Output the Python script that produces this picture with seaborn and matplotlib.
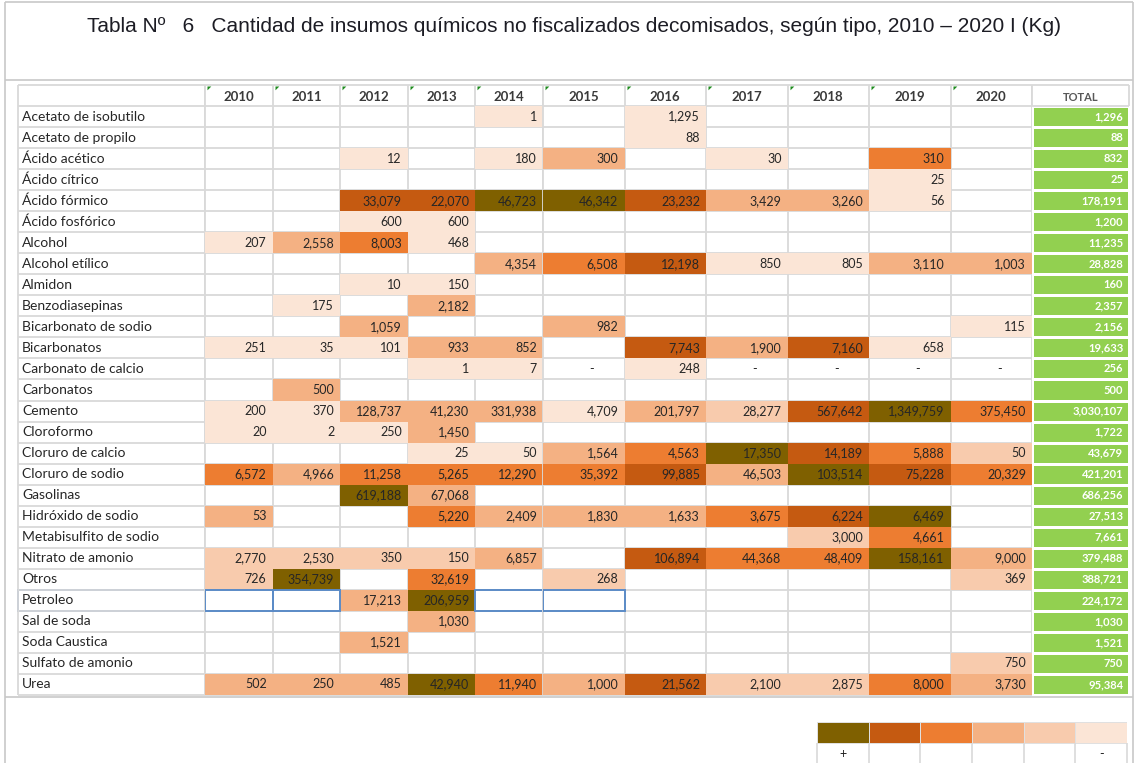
import matplotlib
matplotlib.use('Agg')
import matplotlib.pyplot as plt
import numpy as np
import pandas as pd
import seaborn as sns
from matplotlib.colors import ListedColormap
from matplotlib.patches import Rectangle

anios = ['2010', '2011', '2012', '2013', '2014', '2015', '2016', '2017', '2018', '2019', '2020']

insumos = ['Acetato de isobutilo', 'Acetato de propilo', 'Ácido acético', 'Ácido cítrico',
           'Ácido fórmico', 'Ácido fosfórico', 'Alcohol', 'Alcohol etílico', 'Almidon',
           'Benzodiasepinas', 'Bicarbonato de sodio', 'Bicarbonatos', 'Carbonato de calcio',
           'Carbonatos', 'Cemento', 'Cloroformo', 'Cloruro de calcio', 'Cloruro de sodio',
           'Gasolinas', 'Hidróxido de sodio', 'Metabisulfito de sodio', 'Nitrato de amonio',
           'Otros', 'Petroleo', 'Sal de soda', 'Soda Caustica', 'Sulfato de amonio', 'Urea']

_ = None
# kg decomisados por año (None = celda vacía, '-' = guion)
valores = [
    [_, _, _, _, 1, _, 1295, _, _, _, _],
    [_, _, _, _, _, _, 88, _, _, _, _],
    [_, _, 12, _, 180, 300, _, 30, _, 310, _],
    [_, _, _, _, _, _, _, _, _, 25, _],
    [_, _, 33079, 22070, 46723, 46342, 23232, 3429, 3260, 56, _],
    [_, _, 600, 600, _, _, _, _, _, _, _],
    [207, 2558, 8003, 468, _, _, _, _, _, _, _],
    [_, _, _, _, 4354, 6508, 12198, 850, 805, 3110, 1003],
    [_, _, 10, 150, _, _, _, _, _, _, _],
    [_, 175, _, 2182, _, _, _, _, _, _, _],
    [_, _, 1059, _, _, 982, _, _, _, _, 115],
    [251, 35, 101, 933, 852, _, 7743, 1900, 7160, 658, _],
    [_, _, _, 1, 7, '-', 248, '-', '-', '-', '-'],
    [_, 500, _, _, _, _, _, _, _, _, _],
    [200, 370, 128737, 41230, 331938, 4709, 201797, 28277, 567642, 1349759, 375450],
    [20, 2, 250, 1450, _, _, _, _, _, _, _],
    [_, _, _, 25, 50, 1564, 4563, 17350, 14189, 5888, 50],
    [6572, 4966, 11258, 5265, 12290, 35392, 99885, 46503, 103514, 75228, 20329],
    [_, _, 619188, 67068, _, _, _, _, _, _, _],
    [53, _, _, 5220, 2409, 1830, 1633, 3675, 6224, 6469, _],
    [_, _, _, _, _, _, _, _, 3000, 4661, _],
    [2770, 2530, 350, 150, 6857, _, 106894, 44368, 48409, 158161, 9000],
    [726, 354739, _, 32619, _, 268, _, _, _, _, 369],
    [_, _, 17213, 206959, _, _, _, _, _, _, _],
    [_, _, _, 1030, _, _, _, _, _, _, _],
    [_, _, 1521, _, _, _, _, _, _, _, _],
    [_, _, _, _, _, _, _, _, _, _, 750],
    [502, 250, 485, 42940, 11940, 1000, 21562, 2100, 2875, 8000, 3730],
]

# nivel del formato condicional (0 = sin color, 1 = más claro ... 6 = más alto)
niveles = [
    [0, 0, 0, 0, 1, 0, 1, 0, 0, 0, 0],
    [0, 0, 0, 0, 0, 0, 1, 0, 0, 0, 0],
    [0, 0, 1, 0, 1, 3, 0, 1, 0, 4, 0],
    [0, 0, 0, 0, 0, 0, 0, 0, 0, 1, 0],
    [0, 0, 5, 5, 6, 6, 5, 3, 3, 1, 0],
    [0, 0, 1, 1, 0, 0, 0, 0, 0, 0, 0],
    [1, 3, 4, 1, 0, 0, 0, 0, 0, 0, 0],
    [0, 0, 0, 0, 3, 4, 5, 1, 1, 3, 3],
    [0, 0, 1, 1, 0, 0, 0, 0, 0, 0, 0],
    [0, 1, 0, 3, 0, 0, 0, 0, 0, 0, 0],
    [0, 0, 3, 0, 0, 3, 0, 0, 0, 0, 1],
    [1, 1, 1, 3, 3, 0, 5, 3, 5, 1, 0],
    [0, 0, 0, 1, 1, 0, 1, 0, 0, 0, 0],
    [0, 3, 0, 0, 0, 0, 0, 0, 0, 0, 0],
    [1, 1, 3, 3, 3, 1, 3, 2, 5, 6, 4],
    [1, 1, 1, 3, 0, 0, 0, 0, 0, 0, 0],
    [0, 0, 0, 1, 1, 3, 4, 6, 5, 4, 2],
    [4, 3, 4, 4, 4, 4, 5, 3, 6, 5, 4],
    [0, 0, 6, 3, 0, 0, 0, 0, 0, 0, 0],
    [3, 0, 0, 4, 3, 3, 3, 4, 5, 6, 0],
    [0, 0, 0, 0, 0, 0, 0, 0, 2, 4, 0],
    [2, 2, 2, 2, 3, 0, 5, 4, 4, 6, 3],
    [2, 6, 0, 4, 0, 2, 0, 0, 0, 0, 2],
    [0, 0, 3, 6, 0, 0, 0, 0, 0, 0, 0],
    [0, 0, 0, 3, 0, 0, 0, 0, 0, 0, 0],
    [0, 0, 3, 0, 0, 0, 0, 0, 0, 0, 0],
    [0, 0, 0, 0, 0, 0, 0, 0, 0, 0, 2],
    [3, 3, 3, 6, 4, 3, 5, 2, 2, 4, 3],
]

totales = [1296, 88, 832, 25, 178191, 1200, 11235, 28828, 160, 2357, 2156, 19633, 256, 500,
           3030107, 1722, 43679, 421201, 686256, 27513, 7661, 379488, 388721, 224172,
           1030, 1521, 750, 95384]

leyenda_niveles = [6, 5, 4, 3, 2, 1]
leyenda_textos = ['+', '', '', '', '', '-']

colores = ['#FBE5D6', '#F8CBAD', '#F4B183', '#ED7D31', '#C55A11', '#7F6000']
gris = '#D9D9D9'
azul = '#5B8BC7'

sns.set_style('white')
plt.rcParams['font.family'] = ['Lato', 'DejaVu Sans']

W, H = 1134, 763


def caja(x0, y0, x1, y1):
    return [x0 / W, 1 - y1 / H, (x1 - x0) / W, (y1 - y0) / H]


def texto(v):
    if v is None:
        return ''
    if v == '-':
        return '-'
    return f'{v:,}'


cmap = ListedColormap([(1, 1, 1, 0)] + colores)
niv = pd.DataFrame(niveles, index=insumos, columns=anios)
annot = np.array([[texto(v) for v in fila] for fila in valores])

fig = plt.figure(figsize=(W / 100, H / 100), dpi=100)

# marco de fondo
bg = fig.add_axes([0, 0, 1, 1])
bg.set_xlim(0, W)
bg.set_ylim(H, 0)
bg.axis('off')
bg.hlines([2, 80, 697], 5, W - 1, colors='#C8C8C8', lw=1.2)
bg.vlines([5, W - 1], 2, H, colors='#C8C8C8', lw=1.2)

fig.text(574 / W, 1 - 26 / H,
         'Tabla Nº   6   Cantidad de insumos químicos no fiscalizados decomisados, según tipo, 2010 – 2020 I (Kg)',
         ha='center', va='center', fontsize=15, color='#1c1c24',
         family=['Liberation Sans Narrow', 'Liberation Sans', 'DejaVu Sans'])

top, bottom = 85, 695
n = len(insumos)

# columna de nombres
ax_lab = fig.add_axes(caja(18, top, 205, bottom))
ax_lab.set_xlim(0, 1)
ax_lab.set_ylim(n, -1)
ax_lab.axis('off')
ax_lab.hlines(range(-1, n + 1), 0, 1, colors=gris, lw=1.3, clip_on=False)
ax_lab.vlines([0, 1], -1, n, colors=gris, lw=1.3, clip_on=False)
fila_sel = insumos.index('Petroleo')
ax_lab.add_patch(Rectangle((0, fila_sel), 1, 1, fill=False, ec=azul, lw=1.4, clip_on=False))

# años: dos bloques por el ancho distinto de columnas
bloques = [(0, 5, 205, 543), (5, 11, 543, 1032)]
sel_cols = ['2010', '2011', '2014', '2015']
for k, (c0, c1, x0, x1) in enumerate(bloques):
    ax = fig.add_axes(caja(x0, top, x1, bottom))
    sub = niv.iloc[:, c0:c1]
    sns.heatmap(sub, ax=ax, cmap=cmap, vmin=-0.5, vmax=6.5, cbar=False,
                annot=annot[:, c0:c1], fmt='',
                annot_kws={'color': '#262626', 'fontsize': 9},
                yticklabels=(k == 0), xticklabels=True)
    m = c1 - c0
    ax.set_ylim(n, -1)
    ax.hlines(range(-1, n + 1), 0, m, colors=gris, lw=1.3, zorder=0.5, clip_on=False)
    ax.vlines(range(m + 1), -1, n, colors=gris, lw=1.3, zorder=0.5, clip_on=False)

    ancho = (x1 - x0) / m
    for t in ax.texts:
        x, y = t.get_position()
        if t.get_text() == '-':
            t.set_position((x + 0.1, y))
        else:
            t.set_ha('right')
            t.set_position((x + 0.5 - 6 / ancho, y))

    ax.xaxis.tick_top()
    ax.set_xticklabels(sub.columns, fontweight='bold', rotation=0)
    ax.tick_params(axis='x', length=0, pad=-13, labelsize=9.5, labelcolor='#3a3a3a')
    ax.scatter(np.arange(m) + 0.03, np.full(m, -0.97), marker=[(0, 0), (1, 0), (0, -1)],
               s=30, color='#1E8B1E', linewidths=0, clip_on=False, zorder=3)

    for j, a in enumerate(sub.columns):
        if a in sel_cols:
            ax.add_patch(Rectangle((j, fila_sel), 1, 1, fill=False, ec=azul, lw=1.4, zorder=4))

    if k == 0:
        ax.set_yticklabels(insumos, rotation=0)
        for t in ax.get_yticklabels():
            t.set_ha('left')
        ax.tick_params(axis='y', length=0, pad=(x0 - 22) * 0.72, labelsize=10, labelcolor='#262626')
    ax.set_xlabel('')
    ax.set_ylabel('')

# columna total
ax_tot = fig.add_axes(caja(1032, top, 1129, bottom))
tot = pd.DataFrame({'TOTAL': totales}, index=insumos)
sns.heatmap(tot, ax=ax_tot, cmap=ListedColormap(['#92D050']), cbar=False,
            annot=np.array([[f'{v:,}'] for v in totales]), fmt='',
            annot_kws={'color': 'white', 'fontsize': 8, 'fontweight': 'bold'},
            linewidths=2, linecolor='white', yticklabels=False)
ax_tot.set_ylim(n, -1)
for t in ax_tot.texts:
    x, y = t.get_position()
    t.set_ha('right')
    t.set_position((0.94, y))
ax_tot.hlines([-1, 0], 0, 1, colors=gris, lw=1.3, clip_on=False)
ax_tot.vlines([0, 1], -1, 0, colors=gris, lw=1.3, clip_on=False)
ax_tot.xaxis.tick_top()
ax_tot.set_xticklabels(['TOTAL'], fontweight='bold', rotation=0)
ax_tot.tick_params(axis='x', length=0, pad=-13, labelsize=8, labelcolor='#595959')
ax_tot.set_ylabel('')

# leyenda
ax_ley = fig.add_axes(caja(817, 722, 1127, 763))
sns.heatmap(pd.DataFrame([leyenda_niveles]), ax=ax_ley, cmap=cmap, vmin=-0.5, vmax=6.5,
            cbar=False, linewidths=0.6, linecolor='#E0E0E0', yticklabels=False)
ax_ley.set_ylim(2, 0)
ax_ley.vlines(range(7), 1, 2, colors=gris, lw=1.2, clip_on=False)
ax_ley.set_xticklabels(leyenda_textos, rotation=0)
ax_ley.tick_params(axis='x', length=0, pad=-11, labelsize=9, labelcolor='#202020')

fig.savefig('out.png', dpi=100)
